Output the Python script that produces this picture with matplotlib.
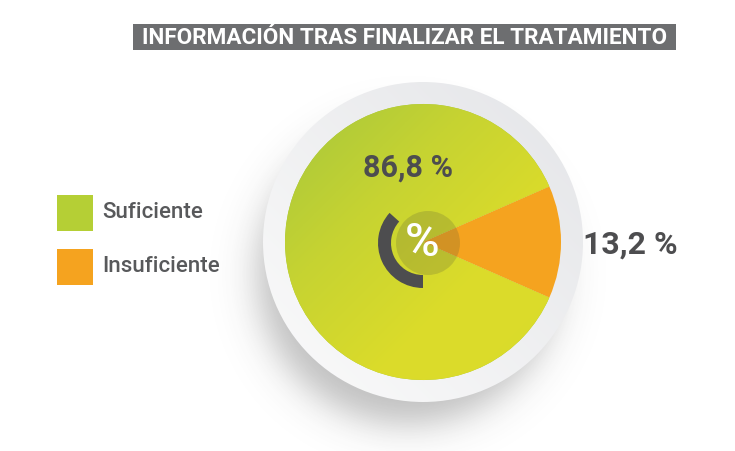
import numpy as np
import matplotlib
matplotlib.use("Agg")
import matplotlib.pyplot as plt
from matplotlib.patches import Circle, Wedge, Rectangle
from matplotlib.colors import LinearSegmentedColormap

# data
labels = ["Suficiente", "Insuficiente"]
values = [86.8, 13.2]
value_labels = ["86,8 %", "13,2 %"]
title = "INFORMACIÓN TRAS FINALIZAR EL TRATAMIENTO"

green_a, green_b = "#a6c73c", "#dcdc2a"
orange = "#f5a31f"
text_dark = "#4d4d4f"
font = "Roboto"

fig = plt.figure(figsize=(7.35, 4.51), dpi=100)
ax = fig.add_axes([0, 0, 1, 1])
ax.set_xlim(0, 735)
ax.set_ylim(451, 0)
ax.axis("off")

cx, cy = 423, 242
r_pie, r_ring = 138, 160

# soft shadow under the ring (bottom-left)
yy, xx = np.mgrid[0:451, 0:735] + 0.5
d = np.hypot(xx - 408, yy - 274) - 150
alpha = 0.32 / (1 + np.exp(d / 11.0))
shadow = np.zeros((451, 735, 4))
shadow[..., :3] = 0.22
shadow[..., 3] = alpha
ax.imshow(shadow, extent=(0, 735, 451, 0), zorder=1, interpolation="bilinear")

# ring with light gradient
ring = Circle((cx, cy), r_ring, facecolor="none", edgecolor="none", zorder=2)
ax.add_patch(ring)
g = np.linspace(0, 1, 200)
G = (g[None, :] - g[:, None] + 1) / 2  # 0 bottom-left .. 1 top-right
ring_cmap = LinearSegmentedColormap.from_list("ring", ["#fbfbfb", "#e4e5e8"])
im = ax.imshow(G, cmap=ring_cmap, extent=(cx - r_ring, cx + r_ring, cy + r_ring, cy - r_ring),
               zorder=2, interpolation="bilinear")
im.set_clip_path(ring)

# pie
start = 360 - values[1] / sum(values) * 360 / 2 - values[0] / sum(values) * 360
wedges, _ = ax.pie(values, center=(cx, cy), radius=r_pie, startangle=start,
                   colors=[green_a, orange], wedgeprops=dict(linewidth=0), frame=False)
ax.set_xlim(0, 735)
ax.set_ylim(451, 0)
ax.set_aspect("equal")
for w in wedges:
    w.set_zorder(3)

# gradient on the green slice
G2 = (g[None, :] + g[:, None]) / 2  # 0 top-left .. 1 bottom-right
green_cmap = LinearSegmentedColormap.from_list("gr", [green_a, "#c6d332", green_b, "#dadb2b"])
im2 = ax.imshow(G2, cmap=green_cmap, extent=(cx - r_pie, cx + r_pie, cy + r_pie, cy - r_pie),
                zorder=3.5, interpolation="bilinear")
im2.set_clip_path(wedges[0])

# center badge
ax.add_patch(Circle((428, 243), 32, facecolor="#5a5a3a", alpha=0.22, edgecolor="none", zorder=5))
ax.add_patch(Wedge((423, 243), 45, 90, 222, width=13, facecolor=text_dark, edgecolor="none", zorder=6))
ax.text(422, 243, "%", color="white", fontsize=34, fontfamily=font, fontweight="medium",
        ha="center", va="center", zorder=7)

# value labels
ax.text(408, 168, value_labels[0], color=text_dark, fontsize=22, fontfamily=font,
        fontweight="bold", ha="center", va="center", zorder=7)
ax.text(583, 245, value_labels[1], color=text_dark, fontsize=23, fontfamily=font,
        fontweight="bold", ha="left", va="center", zorder=7)

# title bar
ax.add_patch(Rectangle((133, 24), 543, 26, facecolor="#6d6e70", edgecolor="none", zorder=2))
ax.text(405, 37.5, title, color="white", fontsize=16.2, fontfamily=font, fontweight="bold",
        ha="center", va="center", zorder=3)

# legend
for i, (lab, col) in enumerate(zip(labels, ["#b5cf35", orange])):
    y0 = 195 + i * 54
    ax.add_patch(Rectangle((57, y0), 36, 36, facecolor=col, edgecolor="none", zorder=3))
    ax.text(102, y0 + 18, lab, color="#58595b", fontsize=16, fontfamily=font,
            fontweight="medium", ha="left", va="center", zorder=3)

fig.savefig("out.png", dpi=100)
